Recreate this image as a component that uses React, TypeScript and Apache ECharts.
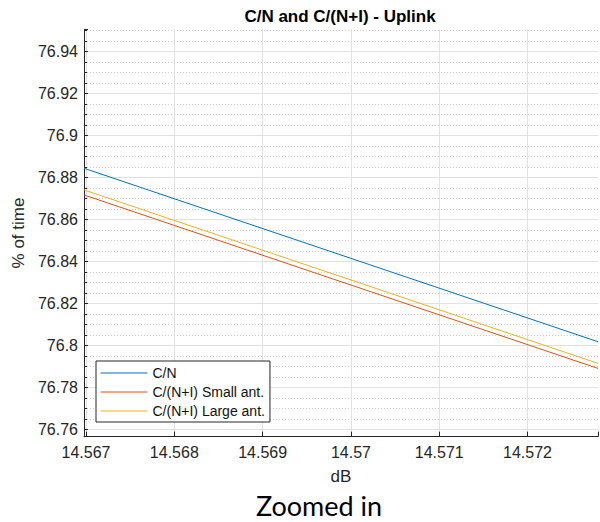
import React, { useEffect, useRef } from "react";
import * as echarts from "echarts";

// Axis ranges of the zoomed view
const dBRange = [14.566977, 14.572798];
const pctRange = [76.75648, 76.95048];

// Tick labels
const dBTicks = ["14.567", "14.568", "14.569", "14.57", "14.571", "14.572"];
const pctTicks = ["76.76", "76.78", "76.8", "76.82", "76.84", "76.86", "76.88", "76.9", "76.92", "76.94"];

// Series: value at each end of the visible dB range
const dB = [14.566977, 14.572798];
const cn = [76.8843, 76.8017];
const cniSmall = [76.8716, 76.789];
const cniLarge = [76.874, 76.7914];

const seriesNames = ["C/N", "C/(N+I) Small ant.", "C/(N+I) Large ant."];
const seriesValues = [cn, cniSmall, cniLarge];
const seriesColors = ["#0072BD", "#D95319", "#EDB120"];

const FONT = "'Liberation Sans', Arial, sans-serif";
const AXIS = "#262626";

const tickFormatter = (ticks: string[]) => (v: number) => {
  const hit = ticks.find((t) => Math.abs(parseFloat(t) - v) < 1e-7);
  return hit ?? "";
};

export default function App() {
  const ref = useRef<HTMLDivElement>(null);

  useEffect(() => {
    if (!ref.current) return;
    const chart = echarts.init(ref.current, null, { renderer: "svg" });
    chart.setOption({
      animation: false,
      backgroundColor: "#ffffff",
      title: [
        {
          text: "C/N and C/(N+I) - Uplink",
          left: 335,
          top: 3,
          textAlign: "center",
          textStyle: { fontFamily: FONT, fontSize: 17, fontWeight: "bold", color: "#000", lineHeight: 17 },
        },
        {
          text: "Zoomed in",
          left: 314,
          top: 487,
          textAlign: "center",
          textStyle: { fontFamily: "Lato, 'Open Sans', sans-serif", fontSize: 27, fontWeight: "normal", color: "#000", lineHeight: 27 },
        },
      ],
      grid: { left: 84, right: 2, top: 29.3, bottom: 85.3, outerBoundsMode: "none" },
      legend: {
        data: seriesNames,
        orient: "vertical",
        left: 96,
        top: 361,
        padding: [5, 5, 4, 4],
        itemWidth: 47,
        itemHeight: 14,
        itemGap: 5,
        backgroundColor: "#ffffff",
        borderColor: AXIS,
        borderWidth: 1,
        borderRadius: 0,
        // line-only keys: hide the marker drawn in the middle of each key
        itemStyle: { opacity: 0 },
        lineStyle: { width: 1 },
        textStyle: { fontFamily: FONT, fontSize: 14, color: "#111" },
      },
      xAxis: {
        type: "value",
        min: dBRange[0],
        max: dBRange[1],
        minInterval: 0.001,
        maxInterval: 0.001,
        splitNumber: 6,
        name: "dB",
        nameLocation: "middle",
        nameGap: 31,
        nameTextStyle: { fontFamily: FONT, fontSize: 17, color: AXIS },
        axisLine: { show: true, lineStyle: { color: AXIS, width: 1 } },
        axisTick: { show: true, inside: true, length: 5, lineStyle: { color: AXIS } },
        axisLabel: {
          margin: 8,
          fontFamily: FONT,
          fontSize: 16,
          color: AXIS,
          formatter: tickFormatter(dBTicks),
        },
        splitLine: { show: true, showMinLine: false, showMaxLine: false, lineStyle: { color: "#e1e1e1", width: 1 } },
      },
      yAxis: {
        type: "value",
        min: pctRange[0],
        max: pctRange[1],
        minInterval: 0.02,
        maxInterval: 0.02,
        splitNumber: 10,
        name: "% of time",
        nameLocation: "middle",
        nameGap: 53,
        nameTextStyle: { fontFamily: FONT, fontSize: 17, color: AXIS },
        axisLine: { show: true, lineStyle: { color: AXIS, width: 1 } },
        axisTick: { show: true, inside: true, length: 4, lineStyle: { color: AXIS } },
        minorTick: { show: true, splitNumber: 4, length: 3, lineStyle: { color: AXIS } },
        axisLabel: {
          margin: 6,
          fontFamily: FONT,
          fontSize: 16,
          color: AXIS,
          formatter: tickFormatter(pctTicks),
        },
        splitLine: { show: true, showMinLine: false, showMaxLine: false, lineStyle: { color: "#e1e1e1", width: 1 } },
        minorSplitLine: { show: true, lineStyle: { color: "#cdcdcd", width: 1, type: [1, 2] } },
      },
      series: seriesNames.map((name, i) => ({
        name,
        type: "line",
        symbol: "none",
        showSymbol: false,
        clip: true,
        color: seriesColors[i],
        lineStyle: { color: seriesColors[i], width: 1 },
        data: dB.map((x, j) => [x, seriesValues[i][j]]),
      })),
    });
    return () => chart.dispose();
  }, []);

  return <div ref={ref} style={{ position: "fixed", left: 0, top: 0, width: 600, height: 522 }} />;
}
